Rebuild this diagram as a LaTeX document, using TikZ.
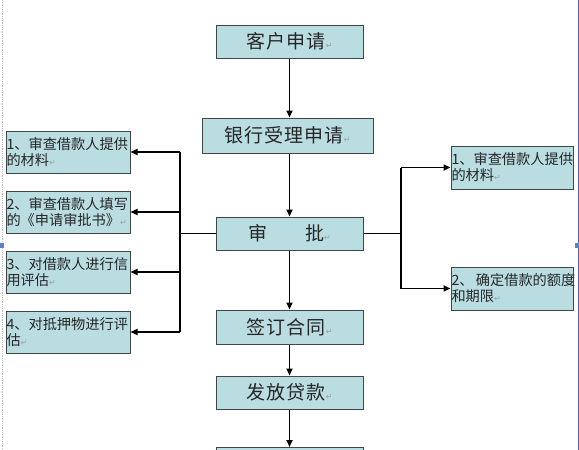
\documentclass[tikz,border=0pt]{standalone}
\usepackage{fontspec}
\newfontfamily\cjk{Noto Sans CJK SC}
\newfontfamily\cjkwide[LetterSpace=6]{Noto Sans CJK SC}
\newfontfamily\symfont{DejaVu Sans}
\usetikzlibrary{arrows.meta,positioning}
\definecolor{boxfill}{RGB}{186,221,226}
\definecolor{boxline}{RGB}{62,72,74}
\definecolor{handle}{RGB}{90,130,200}
\newcommand{\pmk}{{\symfont\fontsize{8}{8}\selectfont\color{gray!75}↵}}

\begin{document}
\begin{tikzpicture}[x=1pt, y=-1pt,
    flowbox/.style={draw=boxline, line width=1pt, fill=boxfill, minimum width=147pt, minimum height=33pt, inner sep=0pt, text=black!85, font=\cjkwide\fontsize{19}{21}\selectfont},
    notebox/.style={draw=boxline, line width=1pt, fill=boxfill, minimum height=42pt, text width=123pt, inner sep=0.5pt, align=left, text=black!85, font=\cjk\fontsize{14.2}{16}\selectfont},
    arr/.style={-{Triangle[length=7pt,width=6pt]}, line width=1.6pt},
    link/.style={line width=1.6pt}]
    \useasboundingbox (0,0) rectangle (579,450);
    \clip (0,0) rectangle (579,450);
    \fill[white] (0,0) rectangle (579,450);

    % page edges
    \draw [gray!50, densely dotted, line width=0.8pt] (2,0) -- (2,450);
    \draw [gray!70!blue, line width=0.8pt] (578,0) -- (578,450);
    \fill [handle] (0,243) rectangle (4,248);
    \fill [handle] (575,243) rectangle (579,248);

    % main flow
    \node [flowbox] (kh) at (289.5,41.5) {客户申请\pmk};
    \node [flowbox, minimum width=171pt, minimum height=35pt] (yh) at (287.5,135.5) {银行受理申请\pmk};
    \node [flowbox] (sp) at (289.5,233.5) {审\hspace{38pt}批\pmk};
    \node [flowbox, minimum height=34pt] (qd) at (289.5,327) {签订合同\pmk};
    \node [flowbox] (ff) at (289.5,392.5) {发放贷款\pmk};
    \node [flowbox] (nx) at (289.5,464) {};

    \draw [arr] (kh.south) -- (kh.south |- yh.north);
    \draw [arr] (yh.south -| sp.north) -- (sp.north);
    \draw [arr] (sp.south) -- (qd.north);
    \draw [arr] (qd.south) -- (ff.north);
    \draw [arr] (ff.south) -- (nx.north);

    % left checks
    \node [notebox] (l1) at (68,152) {1、审查借款人提供\\的材料\pmk};
    \node [notebox] (l2) at (68,212) {2、审查借款人填写\\的《申请审批书》\pmk};
    \node [notebox] (l3) at (68,272) {3、对借款人进行信\\用评估\pmk};
    \node [notebox] (l4) at (68,332) {4、对抵押物进行评\\估\pmk};

    \coordinate (ltrunk) at (180,233.5);
    \draw [link] (sp.west) -- (ltrunk);
    \draw [link] (ltrunk |- l1.east) -- (ltrunk |- l4.east);
    \foreach \n in {l1,l2,l3,l4}
        \draw [arr] (ltrunk |- \n.east) -- (\n.east);

    % right checks
    \node [notebox, text width=121pt, minimum height=43pt] (r1) at (512,167.5) {1、审查借款人提供\\的材料\pmk};
    \node [notebox, text width=121pt, minimum height=43pt] (r2) at (512,288.5) {2、\,确定借款的额度\\和期限\pmk};

    \coordinate (rtrunk) at (401,233.5);
    \draw [link] (sp.east) -- (rtrunk);
    \draw [link] (rtrunk |- r1.west) -- (rtrunk |- r2.west);
    \foreach \n in {r1,r2}
        \draw [arr] (rtrunk |- \n.west) -- (\n.west);
\end{tikzpicture}
\end{document}
